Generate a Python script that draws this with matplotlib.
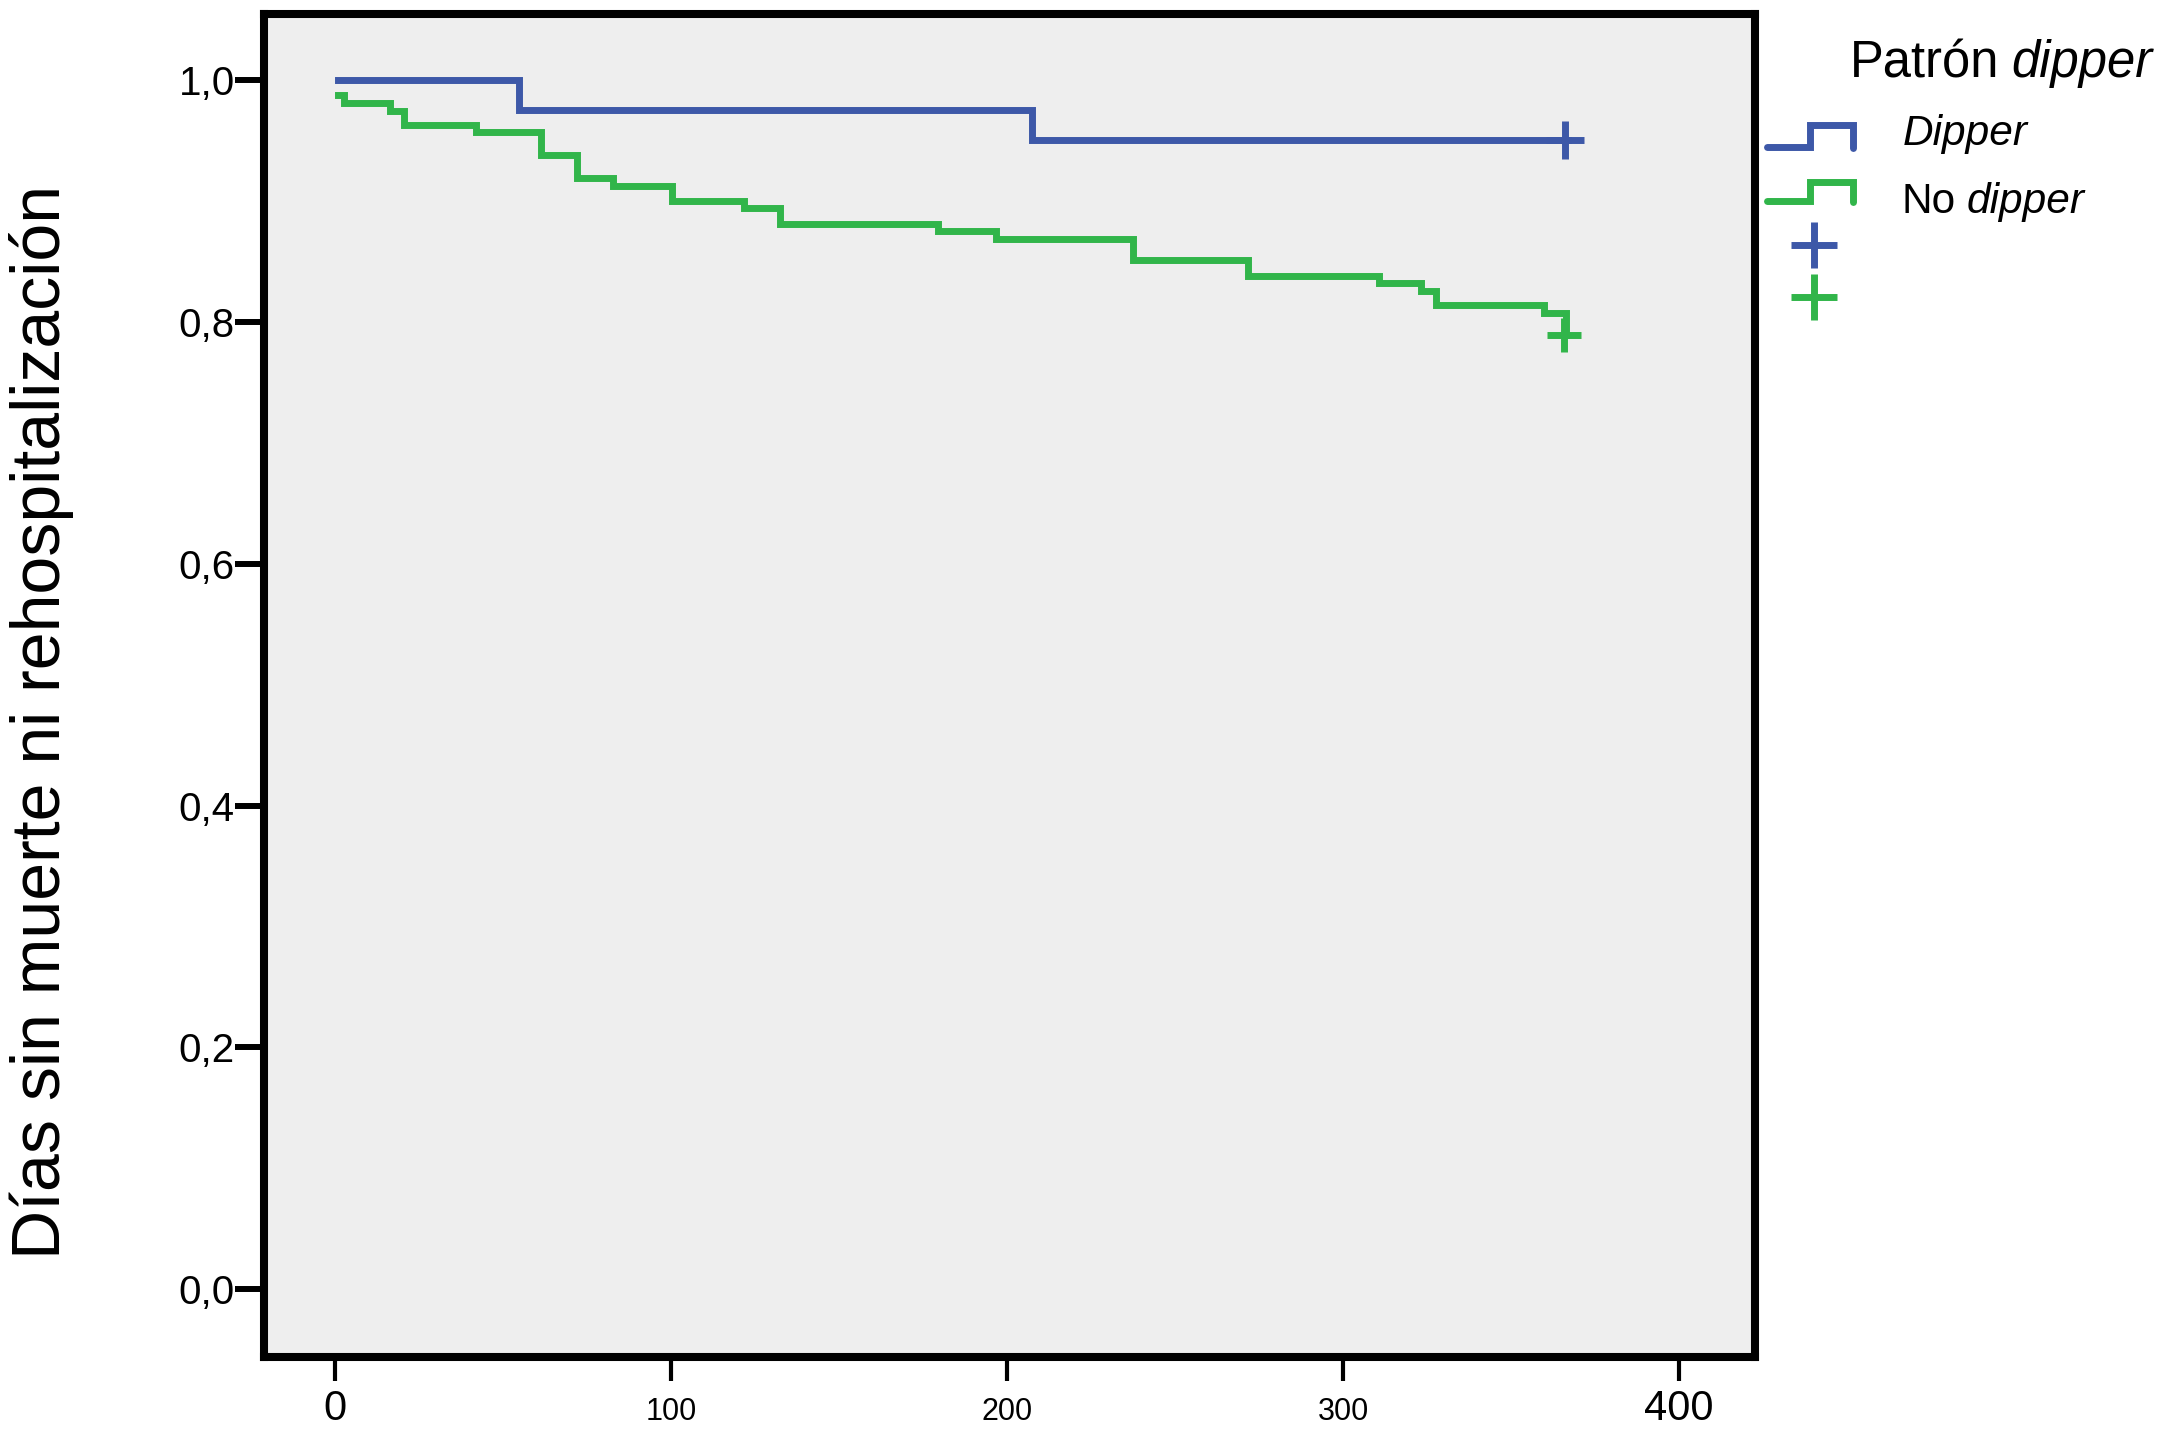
import matplotlib
matplotlib.use("Agg")
import matplotlib.pyplot as plt
from matplotlib.lines import Line2D

plt.rcParams['font.family'] = ['Liberation Sans', 'DejaVu Sans']

# ---- data ----
dipper_t = [1, 54.9, 207.4, 367]
dipper_s = [1.0, 0.9755, 0.9506, 0.9506]
dipper_cens_t = [366.2]
dipper_cens_s = [0.9506]

nodip_t = [1, 2.7, 16.4, 20.7, 42.1, 61.3, 72.0, 82.7, 100.3, 121.7, 132.5,
           179.5, 196.6, 237.4, 271.7, 310.6, 323.3, 327.7, 359.9, 366.3]
nodip_s = [0.988, 0.981, 0.975, 0.963, 0.957, 0.938, 0.919, 0.913, 0.900, 0.894,
           0.881, 0.875, 0.869, 0.851, 0.838, 0.832, 0.826, 0.814, 0.8075, 0.789]
nodip_cens_t = [365.8]
nodip_cens_s = [0.789]

yticks = [0.0, 0.2, 0.4, 0.6, 0.8, 1.0]
ytick_labels = ["0,0", "0,2", "0,4", "0,6", "0,8", "1,0"]
xticks = [0, 100, 200, 300, 400]
xtick_labels = ["0", "100", "200", "300", "400"]
xtick_sizes = [30, 22, 22, 22, 30]

BLUE = "#3D58A8"
GREEN = "#31B54A"
W, H = 2167, 1429
LW = 5.0

fig = plt.figure(figsize=(W / 100, H / 100), dpi=100)
fig.patch.set_facecolor("white")
ax = fig.add_axes([264 / W, 1 - 1356.7 / H, (1755 - 264) / W, (1356.7 - 14) / H])
ax.set_facecolor("#EEEEEE")

ax.step(dipper_t, dipper_s, where="post", color=BLUE, lw=LW, solid_joinstyle="miter")
ax.step(nodip_t, nodip_s, where="post", color=GREEN, lw=LW, solid_joinstyle="miter")
ax.plot(dipper_cens_t, dipper_cens_s, ls="none", marker="+", ms=27, mew=LW, color=BLUE)
ax.plot(nodip_cens_t, nodip_cens_s, ls="none", marker="+", ms=24, mew=LW, color=GREEN)

ax.set_xlim(-21.1, 422.6)
ax.set_ylim(-0.056, 1.0549)

for s in ax.spines.values():
    s.set_linewidth(5.8)
    s.set_color("black")

ax.set_yticks(yticks)
ax.set_yticklabels(ytick_labels, fontsize=29)
ax.tick_params(axis="y", length=21, width=4.3, pad=0, direction="out")
ax.set_xticks(xticks)
ax.set_xticklabels(xtick_labels)
ax.tick_params(axis="x", length=17, width=3, pad=6, direction="out")
for tk, lab, sz in zip(ax.xaxis.get_major_ticks(), ax.get_xticklabels(), xtick_sizes):
    lab.set_fontsize(sz)
    if sz < 30:
        tk.set_pad(6 + (30 - sz) * 0.716)

fig.text(74 / W, 1 - 722 / H, "Días sin muerte ni rehospitalización", rotation=90,
         fontsize=49, ha="right", va="center")

# ---- legend ----
def fx(x):
    return x / W

def fy(y):
    return 1 - y / H

fig.canvas.draw()
renderer = fig.canvas.get_renderer()

t1 = fig.text(fx(1850), fy(77.5), "Patrón", fontsize=36.5, va="baseline", ha="left")
bb = t1.get_window_extent(renderer)
fig.text(fx(bb.x1 + 12), fy(77.5), "dipper", fontsize=36.5, style="italic",
         va="baseline", ha="left")

fig.text(fx(1903), fy(145), "Dipper", fontsize=30.5, style="italic", va="baseline", ha="left")
t3 = fig.text(fx(1902), fy(213), "No", fontsize=30.5, va="baseline", ha="left")
bb3 = t3.get_window_extent(renderer)
fig.text(fx(bb3.x1 + 10), fy(213), "dipper", fontsize=30.5, style="italic",
         va="baseline", ha="left")

for col, low, high in [(BLUE, 147, 125), (GREEN, 201, 182)]:
    xs = [1767, 1810, 1810, 1853, 1853]
    ys = [low, low, high, high, low + 1]
    fig.add_artist(Line2D([fx(v) for v in xs], [fy(v) for v in ys], color=col, lw=LW,
                          solid_joinstyle="miter", solid_capstyle="round",
                          transform=fig.transFigure))
for col, yc in [(BLUE, 245), (GREEN, 297)]:
    fig.add_artist(Line2D([fx(1814)], [fy(yc)], ls="none", marker="+", ms=33, mew=LW,
                          color=col, transform=fig.transFigure))

fig.savefig("out.png", dpi=100, facecolor="white")
